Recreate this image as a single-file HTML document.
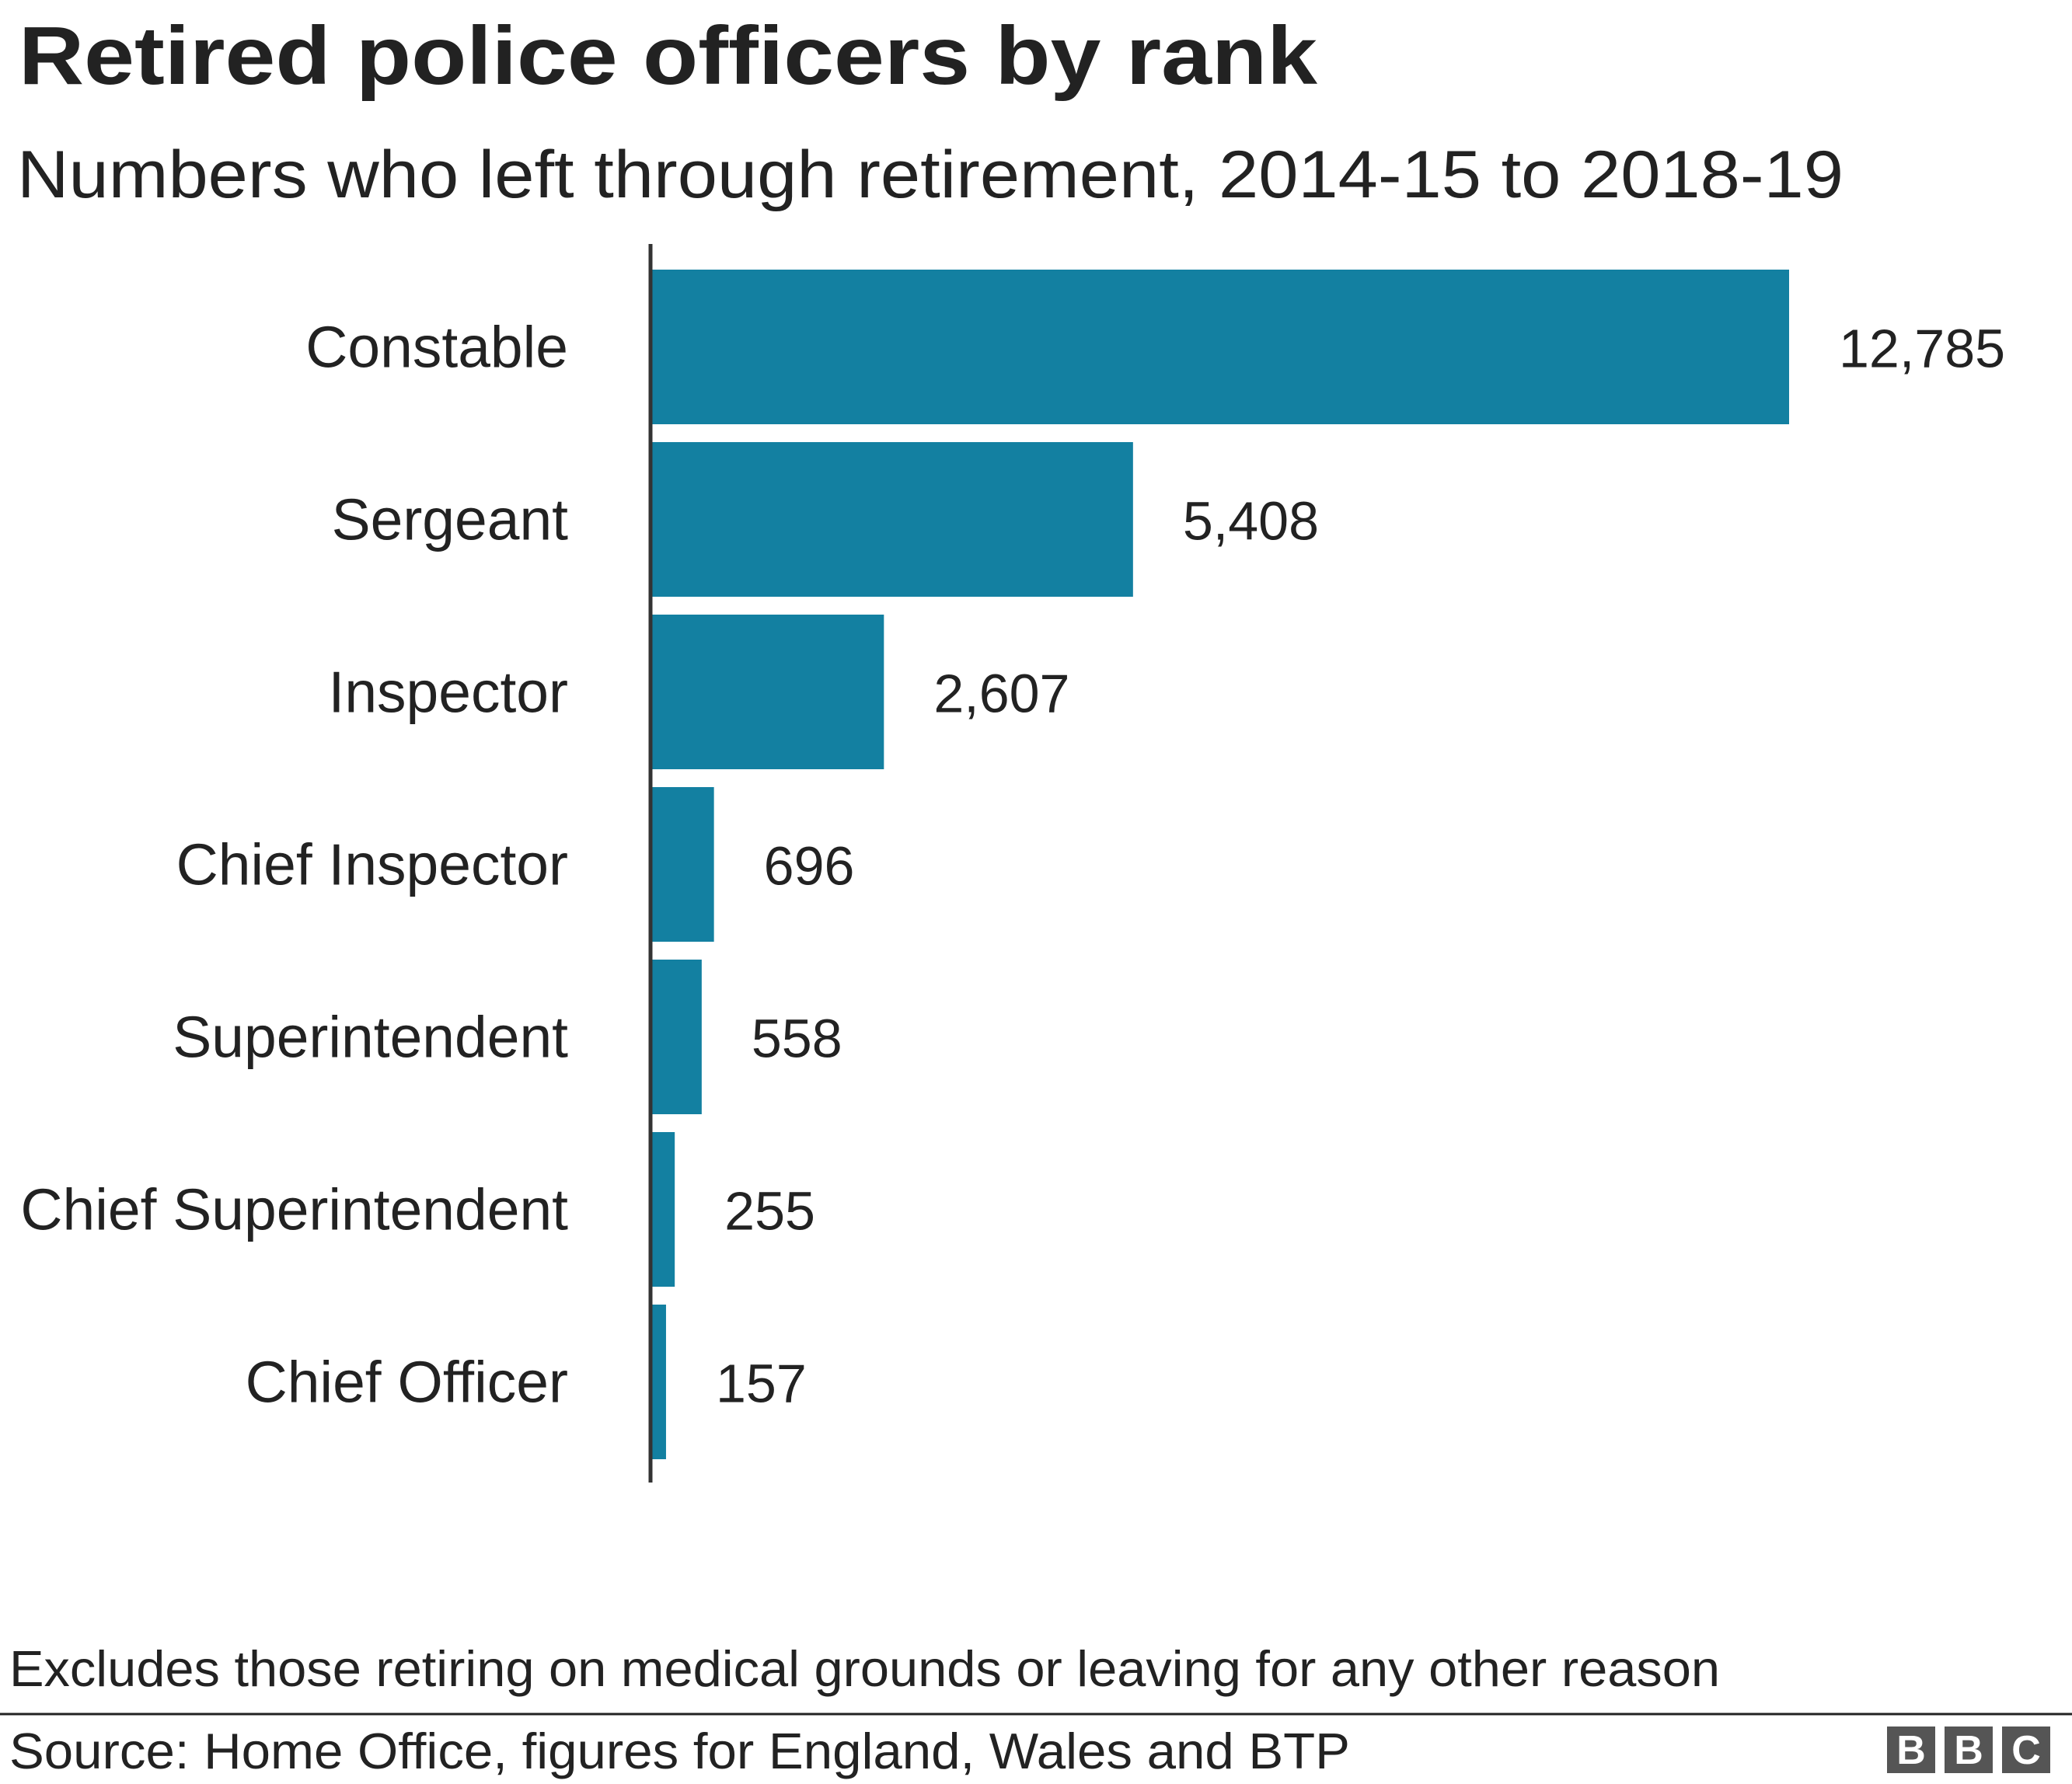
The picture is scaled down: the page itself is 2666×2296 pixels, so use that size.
<!DOCTYPE html>
<html><head><meta charset="utf-8"><style>
body{margin:0;background:#fff;width:2666px;height:2291px;overflow:hidden;font-family:"Liberation Sans",Arial,sans-serif;color:#222}
</style></head><body>
<svg width="2666" height="2291" xmlns="http://www.w3.org/2000/svg" style="font-family:'Liberation Sans',Arial,sans-serif">
<text x="24" y="108" font-size="106" font-weight="bold" fill="#222" textLength="1671" lengthAdjust="spacingAndGlyphs">Retired police officers by rank</text>
<text x="22" y="254" font-size="86" fill="#222" textLength="2350" lengthAdjust="spacingAndGlyphs">Numbers who left through retirement, 2014-15 to 2018-19</text>
<g id="bars"></g>
<line x1="837" y1="314" x2="837" y2="1908" stroke="#333" stroke-width="5"/>
<text x="12" y="2170" font-size="65" fill="#222" textLength="2201" lengthAdjust="spacingAndGlyphs">Excludes those retiring on medical grounds or leaving for any other reason</text>
<line x1="0" y1="2206" x2="2666" y2="2206" stroke="#222" stroke-width="3"/>
<text x="12" y="2276" font-size="65" fill="#222" textLength="1725" lengthAdjust="spacingAndGlyphs">Source: Home Office, figures for England, Wales and BTP</text>
<g>
<rect x="2428" y="2222" width="62" height="60" fill="#555"/>
<rect x="2502" y="2222" width="62" height="60" fill="#555"/>
<rect x="2576" y="2222" width="62" height="60" fill="#555"/>
<text x="2459" y="2270" font-size="52" font-weight="bold" fill="#fff" text-anchor="middle">B</text>
<text x="2533" y="2270" font-size="52" font-weight="bold" fill="#fff" text-anchor="middle">B</text>
<text x="2607" y="2270" font-size="52" font-weight="bold" fill="#fff" text-anchor="middle">C</text>
</g>
</svg>
<script>
const categories=["Constable","Sergeant","Inspector","Chief Inspector","Superintendent","Chief Superintendent","Chief Officer"];
const values=[12785,5408,2607,696,558,255,157];
const valueLabels=["12,785","5,408","2,607","696","558","255","157"];
const NS="http://www.w3.org/2000/svg";
const g=document.getElementById("bars");
const x0=839, xScale=1463/12785;
function x(v){return x0+v*xScale;}
function y(i){return 347+i*222;}
const bh=199;
categories.forEach((c,i)=>{
  const r=document.createElementNS(NS,"rect");
  
  
  r.setAttribute("x",x0);r.setAttribute("y",y(i));
  r.setAttribute("width",x(values[i])-x0);r.setAttribute("height",bh);
  r.setAttribute("fill","#1380A1");g.appendChild(r);
  const t=document.createElementNS(NS,"text");
  
  
  t.setAttribute("x",731);t.setAttribute("y",y(i)+bh/2+26);
  t.setAttribute("text-anchor","end");t.setAttribute("font-size","75");t.setAttribute("fill","#222");
  t.textContent=c;g.appendChild(t);
  const v=document.createElementNS(NS,"text");
  
  
  v.setAttribute("x",x(values[i])+64);v.setAttribute("y",y(i)+bh/2+26);
  v.setAttribute("font-size","70");v.setAttribute("fill","#222");
  v.textContent=valueLabels[i];g.appendChild(v);
});
</script>
</body></html>
